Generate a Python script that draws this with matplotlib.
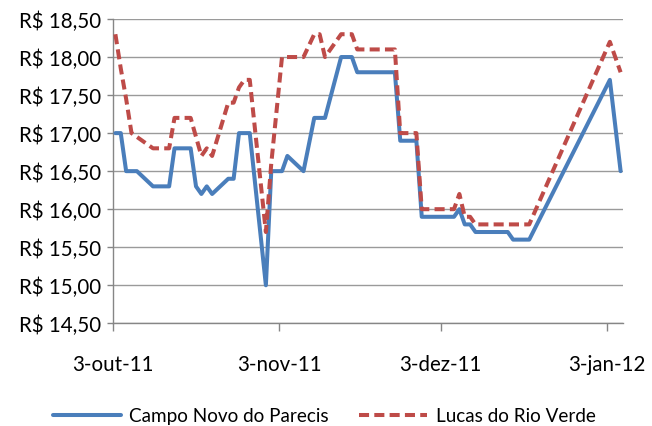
import matplotlib
matplotlib.use("Agg")
import matplotlib.pyplot as plt
import pandas as pd

# ---- data ----
dates = [
    '2011-10-03', '2011-10-04', '2011-10-05', '2011-10-06', '2011-10-07',
    '2011-10-10', '2011-10-11', '2011-10-13', '2011-10-14',
    '2011-10-17', '2011-10-18', '2011-10-19', '2011-10-20', '2011-10-21',
    '2011-10-24', '2011-10-25', '2011-10-26', '2011-10-27', '2011-10-28',
    '2011-10-31', '2011-11-01', '2011-11-03', '2011-11-04',
    '2011-11-07', '2011-11-08', '2011-11-09', '2011-11-10', '2011-11-11',
    '2011-11-14', '2011-11-16', '2011-11-17', '2011-11-18',
    '2011-11-21', '2011-11-22', '2011-11-23', '2011-11-24', '2011-11-25',
    '2011-11-28', '2011-11-29', '2011-11-30', '2011-12-01', '2011-12-02',
    '2011-12-05', '2011-12-06', '2011-12-07', '2011-12-08', '2011-12-09',
    '2011-12-12', '2011-12-13', '2011-12-14', '2011-12-15', '2011-12-16',
    '2011-12-19', '2012-01-03', '2012-01-05',
]

campo_novo = [
    17.00, 17.00, 16.50, 16.50, 16.50,
    16.30, 16.30, 16.30, 16.80,
    16.80, 16.30, 16.20, 16.30, 16.20,
    16.40, 16.40, 17.00, 17.00, 17.00,
    15.00, 16.50, 16.50, 16.70,
    16.50, 16.85, 17.20, 17.20, 17.20,
    18.00, 18.00, 17.80, 17.80,
    17.80, 17.80, 17.80, 17.80, 16.90,
    16.90, 15.90, 15.90, 15.90, 15.90,
    15.90, 16.00, 15.80, 15.80, 15.70,
    15.70, 15.70, 15.70, 15.70, 15.60,
    15.60, 17.70, 16.50,
]

lucas = [
    18.30, 17.85, 17.45, 17.00, 16.95,
    16.80, 16.80, 16.80, 17.20,
    17.20, 16.95, 16.70, 16.80, 16.70,
    17.40, 17.40, 17.60, 17.70, 17.70,
    15.70, 16.60, 18.00, 18.00,
    18.00, 18.15, 18.30, 18.30, 18.00,
    18.30, 18.30, 18.10, 18.10,
    18.10, 18.10, 18.10, 18.10, 17.00,
    17.00, 16.00, 16.00, 16.00, 16.00,
    16.00, 16.20, 15.90, 15.90, 15.80,
    15.80, 15.80, 15.80, 15.80, 15.80,
    15.80, 18.20, 17.80,
]

series_names = ['Campo Novo do Parecis', 'Lucas do Rio Verde']
tick_dates = ['2011-10-03', '2011-11-03', '2011-12-03', '2012-01-03']
tick_labels = ['3-out-11', '3-nov-11', '3-dez-11', '3-jan-12']
y_ticks = [14.5, 15.0, 15.5, 16.0, 16.5, 17.0, 17.5, 18.0, 18.5]

# ---- plot ----
FONT = ['Lato', 'DejaVu Sans']
plt.rcParams['font.family'] = FONT
FS_TICK = 14.8
FS_LEG = 13.6

fig = plt.figure(figsize=(6.52, 4.27), dpi=100)
ax = fig.add_axes([112.7 / 652, 1 - 324.3 / 427, (623.3 - 112.7) / 652, (324.3 - 20) / 427])

x = pd.to_datetime(dates) + pd.Timedelta(hours=12)

ax.plot(x, campo_novo, color='#4A7EBB', lw=2.9, solid_joinstyle='round',
        solid_capstyle='round', label=series_names[0], zorder=3)
ax.plot(x, lucas, color='#BE4B48', lw=2.9, dashes=(2.5, 1.3),
        dash_capstyle='butt', dash_joinstyle='round', label=series_names[1], zorder=4)

ax.set_xlim(pd.Timestamp('2011-10-03'), pd.Timestamp('2012-01-06'))
ax.set_ylim(14.5, 18.5)

ax.set_xticks(pd.to_datetime(tick_dates))
ax.set_xticklabels(tick_labels)
ax.set_yticks(y_ticks)
ax.set_yticklabels(['R$ ' + f'{v:.2f}'.replace('.', ',') for v in y_ticks])

grid_c = '#9A9A9A'
ax.yaxis.grid(True, color=grid_c, lw=1.0)
ax.set_axisbelow(True)
for s in ['top', 'right']:
    ax.spines[s].set_visible(False)
for s in ['left', 'bottom']:
    ax.spines[s].set_color('#868686')
    ax.spines[s].set_linewidth(1.0)

ax.tick_params(axis='x', direction='out', length=5.5, width=1.0, color='#868686',
               labelsize=FS_TICK, pad=16.5, labelcolor='black')
ax.tick_params(axis='y', direction='out', length=4.3, width=1.0, color='#868686',
               labelsize=FS_TICK, pad=4, labelcolor='black')

fig.legend(loc='lower center', bbox_to_anchor=(0.497, -0.036), ncol=2, frameon=False,
           fontsize=FS_LEG, handlelength=3.6, handletextpad=0.45, columnspacing=1.6)

fig.savefig('out.png', dpi=100)
